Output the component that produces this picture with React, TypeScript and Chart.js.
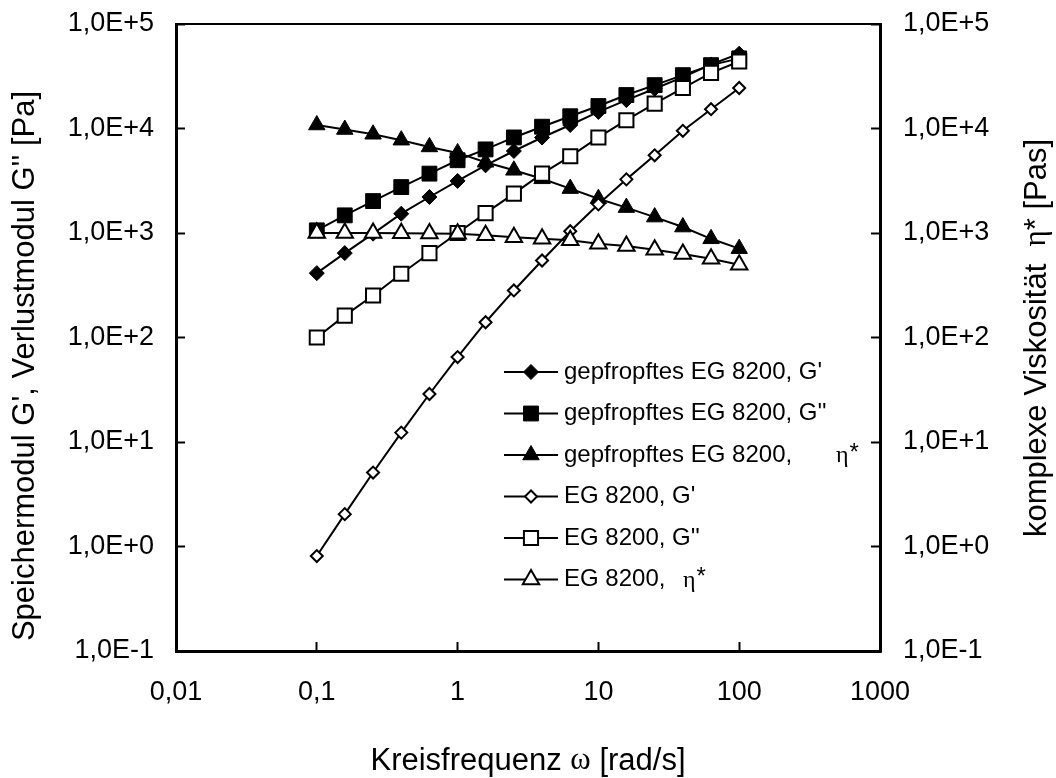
import React, { useEffect, useRef } from 'react';
import { Chart, registerables } from 'chart.js';
import { drawPoint } from 'chart.js/helpers';

Chart.register(...registerables);

// ---- data ----
const frequencies = [0.1, 0.158, 0.251, 0.398, 0.631, 1, 1.58, 2.51, 3.98, 6.31, 10, 15.8, 25.1, 39.8, 63.1, 100];
const graftedStorage = [413, 642, 985, 1530, 2210, 3150, 4440, 6090, 8200, 10800, 14400, 18700, 24000, 31000, 41000, 52000];
const graftedLoss = [1060, 1475, 2020, 2750, 3700, 4970, 6310, 8210, 10400, 13100, 16400, 20900, 26000, 32400, 40400, 46900];
const graftedViscosity = [10800, 9780, 8810, 7730, 6660, 5840, 4750, 3980, 3300, 2660, 2130, 1750, 1420, 1140, 880, 708];
const egStorage = [0.81, 2.04, 5.1, 12.3, 28.8, 65, 140, 282, 546, 1040, 1880, 3260, 5540, 9500, 15300, 24400];
const egLoss = [100, 162, 252, 407, 641, 1000, 1550, 2380, 3700, 5420, 8210, 12000, 17300, 24400, 34100, 43800];
const egViscosity = [1000, 1000, 1000, 995, 990, 985, 950, 912, 880, 851, 789, 750, 692, 631, 567, 497];

const seriesLabels = [
  "gepfropftes EG 8200, G'",
  "gepfropftes EG 8200, G''",
  'gepfropftes EG 8200, η*',
  "EG 8200, G'",
  "EG 8200, G''",
  'EG 8200, η*',
];

const xTickValues = [0.01, 0.1, 1, 10, 100, 1000];
const xTickLabels = ['0,01', '0,1', '1', '10', '100', '1000'];
const yTickValues = [0.1, 1, 10, 100, 1000, 10000, 100000];
const yTickLabels = ['1,0E-1', '1,0E+0', '1,0E+1', '1,0E+2', '1,0E+3', '1,0E+4', '1,0E+5'];

const xTitle = ['Kreisfrequenz ', 'ω', ' [rad/s]'];
const yTitle = ["Speichermodul G', Verlustmodul G'' [Pa]"];
const y2Title = ['komplexe Viskosität  ', 'η', '* [Pas]'];

const SANS = '"Liberation Sans", Arial, sans-serif';
const SERIF = '"Liberation Serif", "Times New Roman", serif';
const TICK_FS = 27;
const TITLE_FS = 31;
const LEGEND_FS = 24;

const toPoints = (vals: number[]) => vals.map((v, i) => ({ x: frequencies[i], y: v }));

function drawRuns(ctx: CanvasRenderingContext2D, runs: { text: string; font: string }[], cx: number, cy: number) {
  let total = 0;
  const widths = runs.map((r) => {
    ctx.font = r.font;
    const w = ctx.measureText(r.text).width;
    total += w;
    return w;
  });
  let x = cx - total / 2;
  ctx.textBaseline = 'middle';
  ctx.textAlign = 'left';
  runs.forEach((r, i) => {
    ctx.font = r.font;
    ctx.fillText(r.text, x, cy);
    x += widths[i];
  });
}

const decorPlugin = {
  id: 'decor',
  afterDraw(chart: any) {
    const ctx: CanvasRenderingContext2D = chart.ctx;
    const area = chart.chartArea;
    ctx.save();
    // top frame line
    ctx.strokeStyle = '#000';
    ctx.lineWidth = 2;
    ctx.beginPath();
    ctx.moveTo(area.left - 1, area.top);
    ctx.lineTo(area.right + 1, area.top);
    ctx.stroke();

    ctx.fillStyle = '#000';
    const tSans = `${TITLE_FS}px ${SANS}`;
    const tSerif = `${TITLE_FS}px ${SERIF}`;
    // x title
    drawRuns(ctx, [
      { text: xTitle[0], font: tSans },
      { text: xTitle[1], font: tSerif },
      { text: xTitle[2], font: tSans },
    ], 528, 761);
    // left title
    ctx.save();
    ctx.translate(25, 366);
    ctx.rotate(-Math.PI / 2);
    drawRuns(ctx, [{ text: yTitle[0], font: tSans }], 0, 0);
    ctx.restore();
    // right title
    ctx.save();
    ctx.translate(1037, 338);
    ctx.rotate(-Math.PI / 2);
    drawRuns(ctx, [
      { text: y2Title[0], font: tSans },
      { text: y2Title[1], font: tSerif },
      { text: y2Title[2], font: tSans },
    ], 0, 0);
    ctx.restore();

    // legend
    const sans = `${LEGEND_FS}px ${SANS}`;
    const serif = `${LEGEND_FS}px ${SERIF}`;
    const rowY0 = 372;
    const rowStep = 41.5;
    const lineX0 = 504;
    const lineX1 = 558;
    const textX = 564;
    chart.data.datasets.forEach((ds: any, i: number) => {
      const y = rowY0 + i * rowStep;
      ctx.strokeStyle = '#000';
      ctx.lineWidth = 2;
      ctx.beginPath();
      ctx.moveTo(lineX0, y);
      ctx.lineTo(lineX1, y);
      ctx.stroke();
      ctx.fillStyle = ds.pointBackgroundColor;
      ctx.strokeStyle = ds.pointBorderColor;
      ctx.lineWidth = ds.pointBorderWidth;
      drawPoint(ctx, { pointStyle: ds.pointStyle, radius: ds.pointRadius, borderWidth: ds.pointBorderWidth, rotation: 0 } as any, (lineX0 + lineX1) / 2, y);
      ctx.fillStyle = '#000';
      ctx.textBaseline = 'middle';
      ctx.textAlign = 'left';
      const label: string = ds.label;
      if (label.endsWith('η*')) {
        const prefix = label.slice(0, -2).trimEnd();
        ctx.font = sans;
        ctx.fillText(prefix, textX, y);
        const symX = i < 3 ? 836 : 683;
        ctx.font = serif;
        ctx.fillText('η', symX, y + 1);
        const w = ctx.measureText('η').width;
        ctx.font = sans;
        ctx.fillText('*', symX + w + 1, y - 2);
      } else {
        ctx.font = sans;
        ctx.fillText(label, textX, y);
      }
    });
    ctx.restore();
  },
};

function makeDataset(i: number, vals: number[], style: string, filled: boolean, radius: number, axis: string) {
  return {
    label: seriesLabels[i],
    data: toPoints(vals),
    yAxisID: axis,
    borderColor: '#000',
    borderWidth: 2,
    pointStyle: style,
    pointRadius: radius,
    pointHoverRadius: radius,
    pointBackgroundColor: filled ? '#000' : '#fff',
    pointBorderColor: '#000',
    pointBorderWidth: filled ? 1 : 2,
    fill: false,
    tension: 0,
    order: 6 - i,
  };
}

export default function App() {
  const canvasRef = useRef<HTMLCanvasElement | null>(null);

  useEffect(() => {
    if (!canvasRef.current) return;
    const decadeTicks = (vals: number[]) => (scale: any) => {
      scale.ticks = vals.map((v) => ({ value: v }));
    };
    const fitVertical = (w: number) => (s: any) => {
      s.width = w;
      s.paddingTop = 0;
      s.paddingBottom = 0;
    };
    const tickFont = { family: SANS, size: TICK_FS };
    const gridOpts = { drawOnChartArea: false, drawTicks: true, tickLength: -9, tickWidth: 2, tickColor: '#000' };
    const borderOpts = { display: true, color: '#000', width: 3 };
    const chart = new Chart(canvasRef.current, {
      type: 'line',
      data: {
        datasets: [
          makeDataset(0, graftedStorage, 'rectRot', true, 7.5, 'y'),
          makeDataset(1, graftedLoss, 'rect', true, 10.5, 'y'),
          makeDataset(2, graftedViscosity, 'triangle', true, 9.5, 'y2'),
          makeDataset(3, egStorage, 'rectRot', false, 6, 'y'),
          makeDataset(4, egLoss, 'rect', false, 10, 'y'),
          makeDataset(5, egViscosity, 'triangle', false, 9.5, 'y2'),
        ] as any,
      },
      options: {
        animation: false,
        responsive: false,
        maintainAspectRatio: false,
        devicePixelRatio: 1,
        layout: { padding: { top: 24, left: 0, right: 0, bottom: 0 } },
        plugins: { legend: { display: false }, tooltip: { enabled: false }, title: { display: false } },
        events: [],
        scales: {
          x: {
            type: 'logarithmic',
            position: 'bottom',
            min: 0.01,
            max: 1000,
            afterBuildTicks: decadeTicks(xTickValues),
            afterFit: (s: any) => { s.height = 127; s.paddingLeft = 0; s.paddingRight = 0; },
            ticks: {
              autoSkip: false,
              maxRotation: 0,
              padding: 34,
              color: '#000',
              font: tickFont,
              callback: (v: any) => xTickLabels[xTickValues.indexOf(Number(v))] ?? '',
            },
            grid: gridOpts,
            border: borderOpts,
          },
          y: {
            type: 'logarithmic',
            position: 'left',
            min: 0.1,
            max: 100000,
            afterBuildTicks: decadeTicks(yTickValues),
            afterFit: fitVertical(176),
            ticks: {
              autoSkip: false,
              padding: 31,
              color: '#000',
              font: tickFont,
              callback: (v: any) => yTickLabels[yTickValues.indexOf(Number(v))] ?? '',
            },
            grid: gridOpts,
            border: borderOpts,
          },
          y2: {
            type: 'logarithmic',
            position: 'right',
            min: 0.1,
            max: 100000,
            afterBuildTicks: decadeTicks(yTickValues),
            afterFit: fitVertical(176),
            ticks: {
              autoSkip: false,
              padding: 32,
              color: '#000',
              font: tickFont,
              callback: (v: any) => yTickLabels[yTickValues.indexOf(Number(v))] ?? '',
            },
            grid: gridOpts,
            border: borderOpts,
          },
        },
      } as any,
      plugins: [decorPlugin],
    });
    return () => chart.destroy();
  }, []);

  return (
    <div style={{ position: 'absolute', left: 0, top: 0, width: 1056, height: 778, background: '#fff' }}>
      <canvas ref={canvasRef} width={1056} height={778} style={{ display: 'block' }} />
    </div>
  );
}
